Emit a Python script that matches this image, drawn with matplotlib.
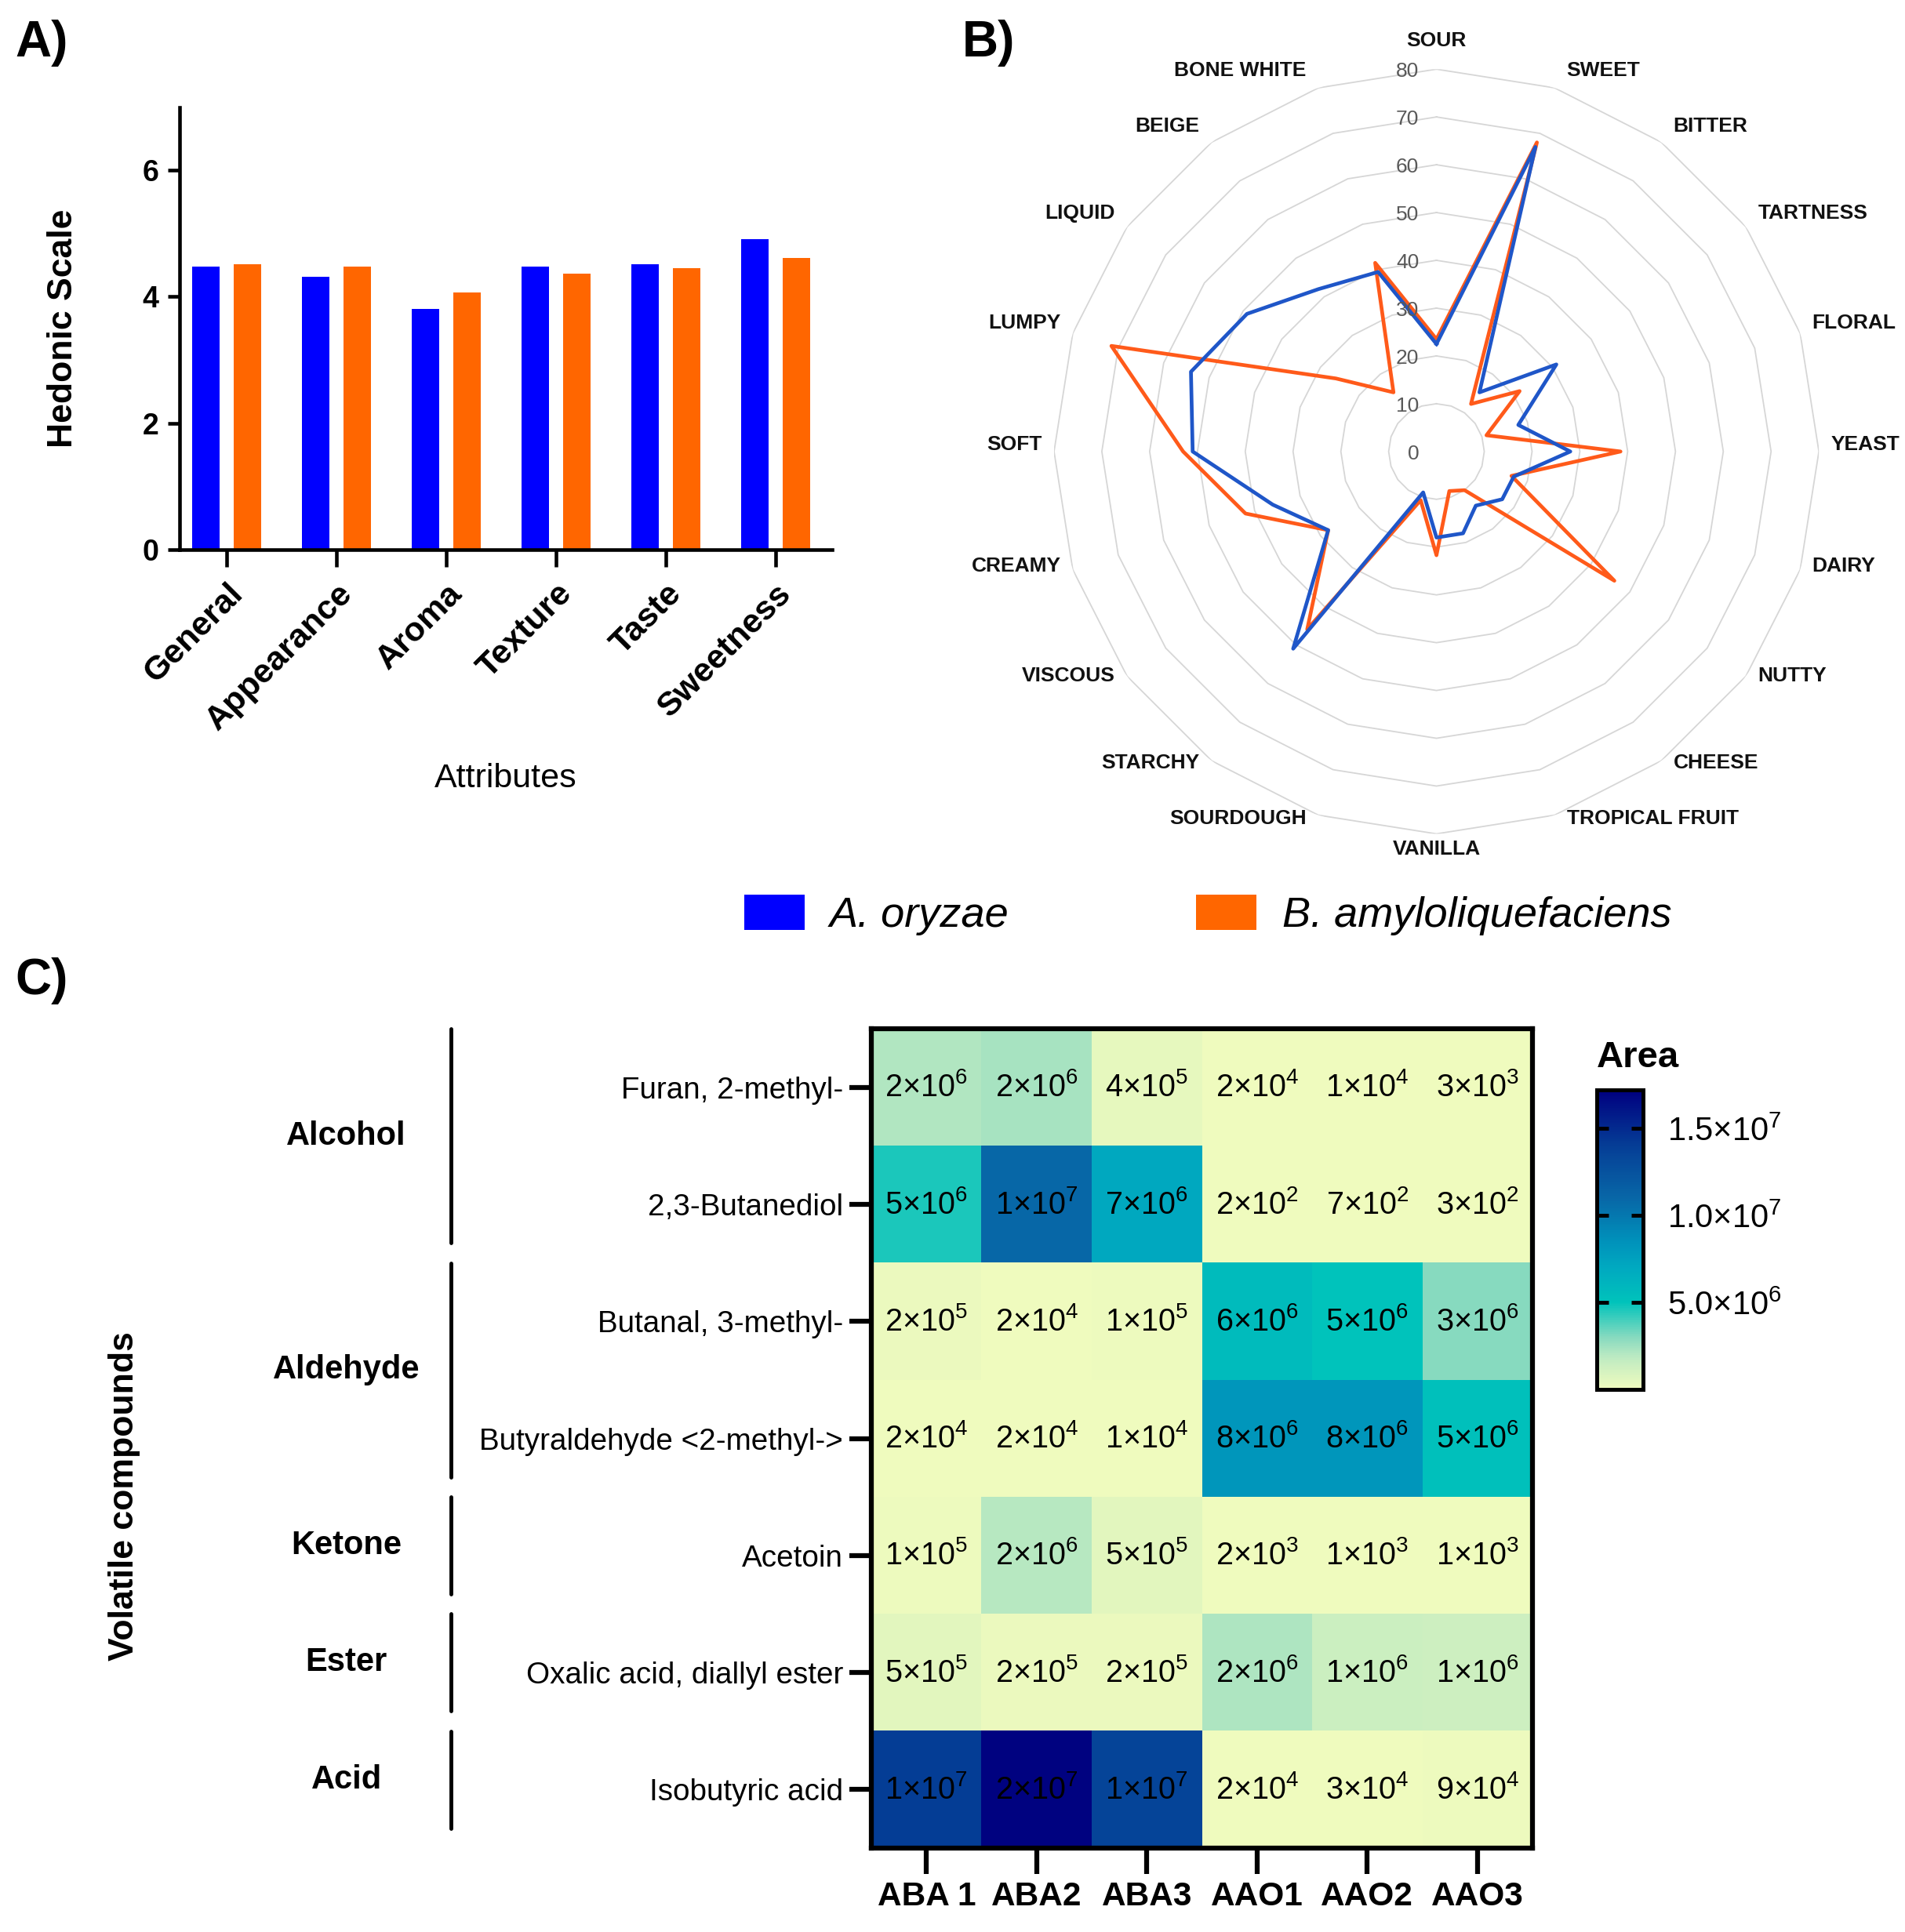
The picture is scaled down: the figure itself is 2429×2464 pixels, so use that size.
import numpy as np
import matplotlib
matplotlib.use('Agg')
import matplotlib.pyplot as plt
from matplotlib.colors import LinearSegmentedColormap
from matplotlib.transforms import blended_transform_factory

plt.rcParams['font.family'] = ['Liberation Sans', 'DejaVu Sans']
plt.rcParams['mathtext.fontset'] = 'custom'
plt.rcParams['mathtext.rm'] = 'Liberation Sans'
plt.rcParams['mathtext.it'] = 'Liberation Sans:italic'
plt.rcParams['mathtext.bf'] = 'Liberation Sans:bold'

# ---- A) hedonic scale
attributes = ['General', 'Appearance', 'Aroma', 'Texture', 'Taste', 'Sweetness']
hedonic_oryzae = [4.48, 4.31, 3.81, 4.48, 4.52, 4.91]
hedonic_amylo = [4.52, 4.48, 4.07, 4.37, 4.45, 4.61]

# ---- B) sensory profile
sensory = ['SOUR', 'SWEET', 'BITTER', 'TARTNESS', 'FLORAL', 'YEAST', 'DAIRY',
           'NUTTY', 'CHEESE', 'TROPICAL FRUIT', 'VANILLA', 'SOURDOUGH',
           'STARCHY', 'VISCOUS', 'CREAMY', 'SOFT', 'LUMPY', 'LIQUID',
           'BEIGE', 'BONE WHITE']
sens_oryzae = [22.5, 67, 15.3, 31, 18, 28, 17, 17, 14, 18, 18, 9,
               51, 28, 36, 51, 54, 49, 42, 39.5]
sens_amylo = [23.5, 68, 12.3, 21.5, 11, 38.5, 16.5, 46, 10, 8.7, 21.7, 10.7,
              46, 28, 42, 53, 71.5, 26, 15.3, 41.5]
ring_levels = [0, 10, 20, 30, 40, 50, 60, 70, 80]

# ---- C) volatile compounds
compounds = ['Furan, 2-methyl-', '2,3-Butanediol', 'Butanal, 3-methyl-',
             'Butyraldehyde <2-methyl->', 'Acetoin',
             'Oxalic acid, diallyl ester', 'Isobutyric acid']
groups = ['Alcohol', 'Aldehyde', 'Ketone', 'Ester', 'Acid']
group_rows = [2, 2, 1, 1, 1]
samples = ['ABA 1', 'ABA2', 'ABA3', 'AAO1', 'AAO2', 'AAO3']
area = np.array([
    [2.1e6, 2.3e6, 4e5, 2e4, 1e4, 3e3],
    [4.6e6, 1.1e7, 7e6, 2e2, 7e2, 3e2],
    [2e5, 2e4, 1e5, 5.6e6, 5e6, 3e6],
    [2e4, 2e4, 1e4, 8.2e6, 8.2e6, 5.2e6],
    [1e5, 2e6, 5e5, 2e3, 1e3, 1e3],
    [5e5, 2e5, 2e5, 2.2e6, 1.4e6, 1.3e6],
    [1.4e7, 1.7e7, 1.35e7, 2e4, 3e4, 9e4],
])
cbar_ticks = [5e6, 1e7, 1.5e7]
cbar_labels = ['5.0×10$^{6}$', '1.0×10$^{7}$', '1.5×10$^{7}$']
vmax = 1.72e7

blue = '#0000FF'
orange = '#FF6600'

fig = plt.figure(figsize=(24.29, 24.64), dpi=100)

# ================= A =================
ax = fig.add_axes([0.0943, 0.7156, 0.3427, 0.2289])
x = np.arange(len(attributes))
ax.bar(x - 0.19, hedonic_oryzae, 0.25, color=blue, label='A. oryzae')
ax.bar(x + 0.19, hedonic_amylo, 0.25, color=orange, label='B. amyloliquefaciens')
ax.set_xlim(-0.43, 5.52)
ax.set_ylim(0, 7)
ax.set_yticks([0, 2, 4, 6])
ax.set_xticks(x)
ax.set_xticklabels(attributes, rotation=45, ha='right', va='top',
                   rotation_mode='anchor', fontsize=31, fontweight='bold')
for lab in ax.get_yticklabels():
    lab.set_fontweight('bold')
ax.tick_params(axis='y', labelsize=27, length=11, width=3.3, pad=8)
ax.tick_params(axis='x', length=16, width=3.3, pad=10)
for s in ['top', 'right']:
    ax.spines[s].set_visible(False)
for s in ['left', 'bottom']:
    ax.spines[s].set_linewidth(3.3)
ax.set_ylabel('Hedonic Scale', fontsize=32, fontweight='bold')
ax.yaxis.set_label_coords(-0.178, 0.5)
ax.yaxis.label.set_va('center')
ax.set_xlabel('Attributes', fontsize=31)
ax.xaxis.set_label_coords(0.499, -0.518)
ax.xaxis.label.set_va('center')
handles, labels = ax.get_legend_handles_labels()

# ================= B =================
axb = fig.add_axes([0.5533, 0.5684, 0.4015, 0.3958], projection='polar')
axb.set_theta_zero_location('N')
axb.set_theta_direction(-1)
angles = np.linspace(0, 2 * np.pi, len(sensory), endpoint=False)
closed = np.append(angles, angles[0])
for r in ring_levels[1:]:
    axb.plot(closed, [r] * len(closed), color='#D6D6D6', lw=1.3, zorder=0)
axb.plot(closed, np.append(sens_amylo, sens_amylo[0]), color='#FF5A1A', lw=3.4, zorder=2)
axb.plot(closed, np.append(sens_oryzae, sens_oryzae[0]), color='#1F56C8', lw=3.4, zorder=3)
axb.set_ylim(0, 80)
axb.grid(False)
axb.set_xticks([])
axb.set_yticks([])
axb.spines['polar'].set_visible(False)
axb.patch.set_visible(False)
for a, name in zip(angles, sensory):
    s, c = np.sin(a), np.cos(a)
    if abs(s) < 0.01:
        ha, dx, dy = 'center', 0, (26 if c > 0 else -14)
    else:
        ha = 'left' if s > 0 else 'right'
        dx, dy = 11 * np.sign(s), 6.5 + 10 * c
    axb.annotate(name, xy=(a, 80), xytext=(dx, dy), textcoords='offset points',
                 ha=ha, va='center', fontsize=19, fontweight='bold',
                 color='#111111')
for r in ring_levels:
    axb.annotate(str(r), xy=(0, r), xytext=(-16, -2), textcoords='offset points',
                 ha='right', va='center', fontsize=19, color='#595959')

# legend shared by A and B
fig.legend(handles, labels, loc='center', bbox_to_anchor=(0.634, 0.5263),
           ncol=2, frameon=False, prop={'style': 'italic', 'size': 39},
           handlelength=1.42, handleheight=0.88, handletextpad=0.6,
           columnspacing=4.4)

# ================= C =================
cmap_vals = [0, 1.5e6, 2e6, 3e6, 5e6, 7e6, 8.5e6, 1.1e7, 1.4e7, vmax]
cmap_cols = ['#EFFBBE', '#C8EEC1', '#B6E8C2', '#86DABF', '#00C3BB', '#00A9C0',
             '#0092BB', '#0867A7', '#053E96', '#000080']
cmap = LinearSegmentedColormap.from_list(
    'area', list(zip([v / vmax for v in cmap_vals], cmap_cols)))

axc = fig.add_axes([0.4574, 0.0434, 0.3471, 0.4241])
im = axc.imshow(area, cmap=cmap, vmin=0, vmax=vmax, aspect='auto',
                interpolation='nearest')
for i in range(area.shape[0]):
    for j in range(area.shape[1]):
        v = area[i, j]
        e = int(np.floor(np.log10(v)))
        m = int(round(v / 10 ** e))
        axc.text(j, i, '%d×10$^{%d}$' % (m, e), ha='center', va='center',
                 fontsize=28.5, color='black')
axc.set_xticks(range(len(samples)))
axc.set_xticklabels(samples, fontsize=30.5, fontweight='bold')
axc.set_yticks(range(len(compounds)))
axc.set_yticklabels(compounds, fontsize=27.8)
axc.tick_params(axis='x', length=24, width=4.5, pad=6)
axc.tick_params(axis='y', length=20, width=4.5, pad=6)
for s in axc.spines.values():
    s.set_linewidth(4.5)

trans = blended_transform_factory(axc.transAxes, axc.transData)
start = 0
for g, n in zip(groups, group_rows):
    y0 = start - 0.5
    y1 = start + n - 1 + 0.33
    axc.plot([-0.636, -0.636], [y0, y1], color='black', lw=3.5,
             solid_capstyle='round', transform=trans, clip_on=False)
    axc.text(-0.794, (y0 + y1) / 2, g, transform=trans, ha='center',
             va='center', fontsize=30, fontweight='bold')
    start += n
axc.text(-1.13, 0.43, 'Volatile compounds', transform=axc.transAxes,
         rotation=90, ha='center', va='center', fontsize=32, fontweight='bold')

cax = fig.add_axes([0.8382, 0.2807, 0.0245, 0.155])
cb = fig.colorbar(im, cax=cax)
cb.set_ticks(cbar_ticks)
cb.set_ticklabels(cbar_labels)
cb.outline.set_linewidth(3.6)
cax.tick_params(axis='y', direction='in', left=True, right=True, length=11,
                width=3.5, labelsize=30, pad=22)
cax.text(0.0, 1.05, 'Area', transform=cax.transAxes, ha='left', va='bottom',
         fontsize=34, fontweight='bold')

# panel letters
fig.text(0.008, 1 - 55 / 2464, 'A)', fontsize=46, fontweight='bold', va='center')
fig.text(0.505, 1 - 55 / 2464, 'B)', fontsize=46, fontweight='bold', va='center')
fig.text(0.008, 1 - 1251 / 2464, 'C)', fontsize=46, fontweight='bold', va='center')

fig.savefig('out.png', dpi=100)
